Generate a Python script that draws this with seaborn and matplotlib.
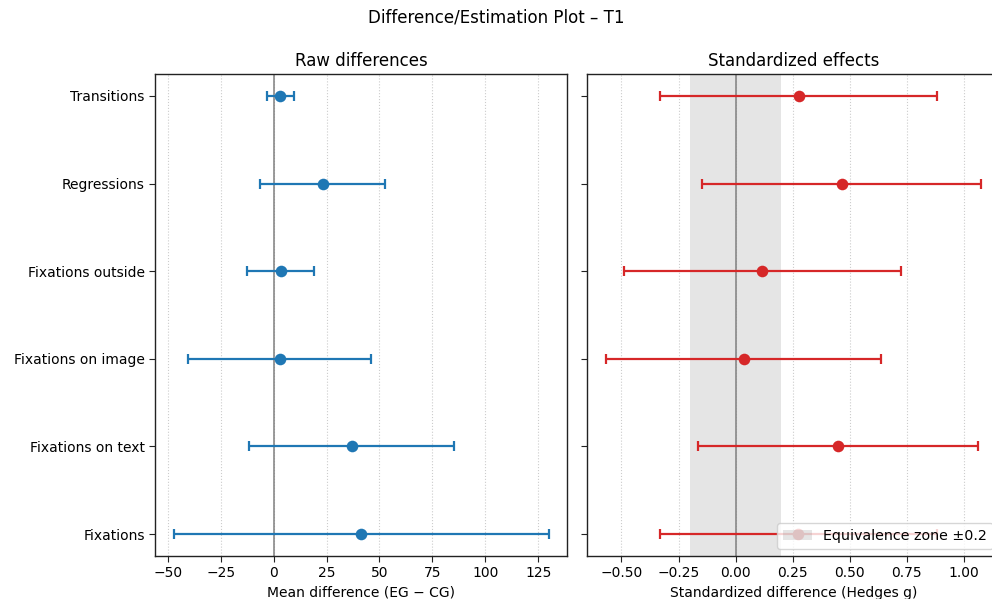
import numpy as np
import pandas as pd
import matplotlib
matplotlib.use("Agg")
import matplotlib.pyplot as plt
import seaborn as sns

# Data (bottom to top)
categories = ["Fixations", "Fixations on text", "Fixations on image",
              "Fixations outside", "Regressions", "Transitions"]
raw_mean = [41.2, 37.0, 2.8, 3.5, 23.1, 3.2]
raw_lo = [-47.2, -11.5, -40.4, -12.5, -6.3, -3.1]
raw_hi = [129.9, 85.4, 45.9, 19.2, 52.7, 9.8]
g_mean = [0.274, 0.449, 0.035, 0.117, 0.468, 0.276]
g_lo = [-0.329, -0.164, -0.567, -0.487, -0.146, -0.329]
g_hi = [0.885, 1.063, 0.639, 0.724, 1.077, 0.885]
equiv = 0.2

sns.set_style("ticks", rc={"axes.edgecolor": "black", "text.color": "black",
                           "axes.labelcolor": "black", "xtick.color": "black",
                           "ytick.color": "black"})
plt.rcParams['font.family'] = ['DejaVu Sans']

df = pd.DataFrame({"cat": categories, "pos": np.arange(len(categories)),
                   "raw": raw_mean, "raw_lo": raw_lo, "raw_hi": raw_hi,
                   "g": g_mean, "g_lo": g_lo, "g_hi": g_hi})

fig, (ax1, ax2) = plt.subplots(1, 2, sharey=True, figsize=(9.92, 5.99), dpi=100)
fig.subplots_adjust(left=0.1563, right=1.008, bottom=0.0718, top=0.8765, wspace=0.0485)

blue = "#1f77b4"
red = "#d62728"

# Left panel
ax1.errorbar(df["raw"], df["pos"],
             xerr=[df["raw"] - df["raw_lo"], df["raw_hi"] - df["raw"]],
             fmt="none", ecolor=blue, elinewidth=1.6, capsize=3.5, capthick=1.6, zorder=2)
sns.scatterplot(data=df, x="raw", y="pos", ax=ax1, color=blue, s=70,
                linewidth=0, zorder=3)
ax1.axvline(0, color="gray", lw=1.1, zorder=1)
ax1.grid(axis="x", linestyle=":", color="#cccccc", lw=0.8)
ax1.set_axisbelow(True)
ax1.set_title("Raw differences", fontsize=12)
ax1.set_xlabel("Mean difference (EG \u2212 CG)", fontsize=10)
ax1.set_ylabel("")
ax1.set_yticks(df["pos"])
ax1.set_yticklabels(categories, fontsize=10)
ax1.set_xticks([-50, -25, 0, 25, 50, 75, 100, 125])

# Right panel
ax2.axvspan(-equiv, equiv, color="gray", alpha=0.2, lw=0,
            label="Equivalence zone \u00b10.2", zorder=0)
ax2.errorbar(df["g"], df["pos"],
             xerr=[df["g"] - df["g_lo"], df["g_hi"] - df["g"]],
             fmt="none", ecolor=red, elinewidth=1.6, capsize=3.5, capthick=1.6, zorder=2)
sns.scatterplot(data=df, x="g", y="pos", ax=ax2, color=red, s=70,
                linewidth=0, zorder=3)
ax2.axvline(0, color="gray", lw=1.1, zorder=1)
ax2.grid(axis="x", linestyle=":", color="#cccccc", lw=0.8)
ax2.set_axisbelow(True)
ax2.set_title("Standardized effects", fontsize=12)
ax2.set_xlabel("Standardized difference (Hedges g)", fontsize=10)
ax2.set_ylabel("")
ax2.set_xticks([-0.5, -0.25, 0, 0.25, 0.5, 0.75, 1.0])
ax2.set_xticklabels(["\u22120.50", "\u22120.25", "0.00", "0.25", "0.50", "0.75", "1.00"])
ax2.tick_params(axis="y", labelleft=False)
ax2.set_xlim(-0.649, 1.159)
ax1.set_xlim(-56.0, 138.8)
ax1.set_ylim(-0.25, 5.25)
ax2.legend(loc="lower right", fontsize=10.3)

for ax in (ax1, ax2):
    for s in ax.spines.values():
        s.set_color("#222222")
        s.set_linewidth(1.0)
    ax.tick_params(axis="both", labelsize=10, length=4, color="#222222")

fig.suptitle("Difference/Estimation Plot \u2013 T1", fontsize=12, y=0.985)
fig.savefig("out.png", dpi=100)
